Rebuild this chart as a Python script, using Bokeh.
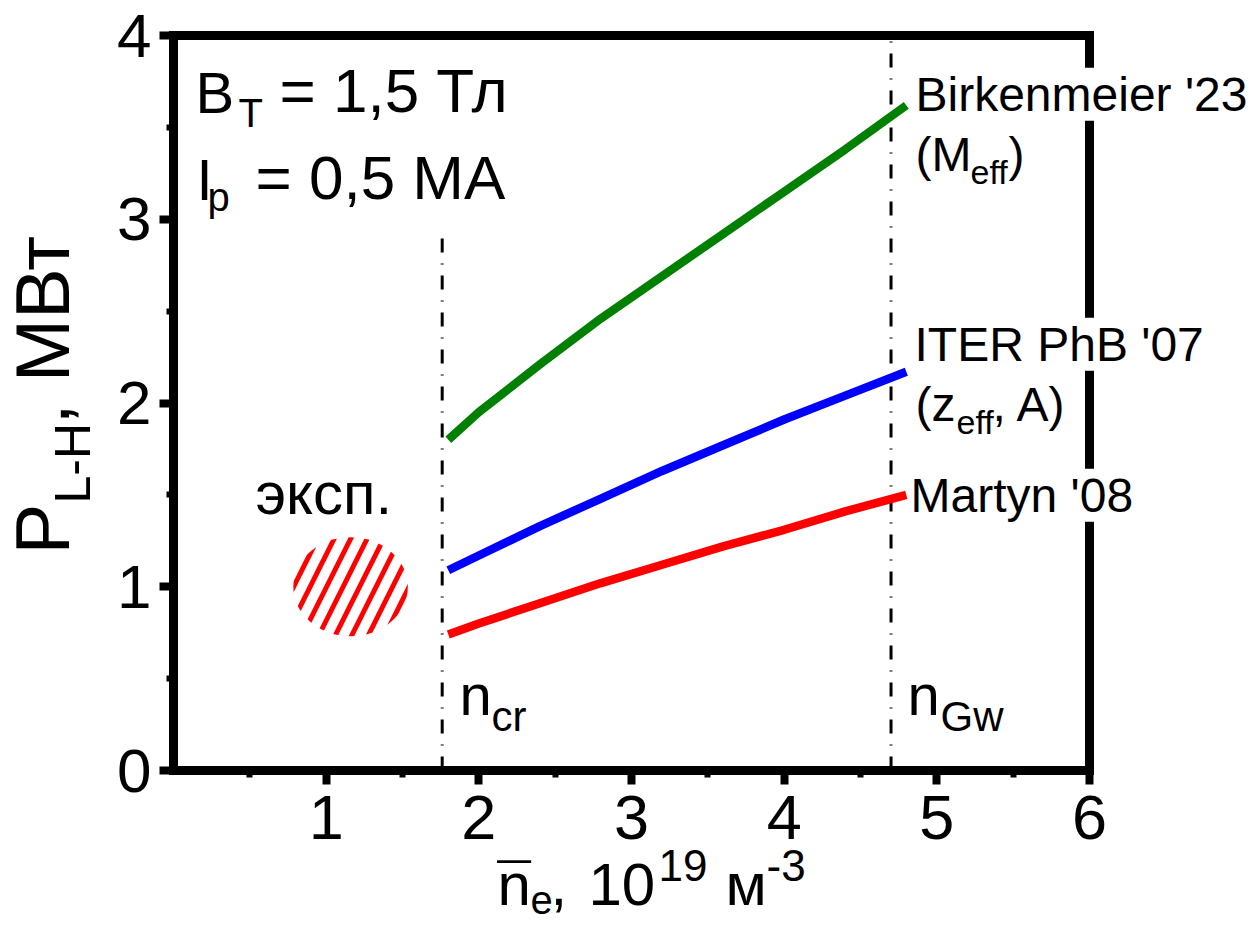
import math
from bokeh.plotting import figure
from bokeh.models import Label, LinearAxis, FixedTicker, Range1d
from bokeh.embed import file_html
from bokeh.resources import INLINE

# ---------------- data ----------------
ne = [1.8, 2.0, 2.4, 2.8, 3.2, 3.6, 4.0, 4.4, 4.8]
p_birkenmeier = [1.80, 1.95, 2.21, 2.46, 2.69, 2.92, 3.15, 3.38, 3.62]
p_iter = [1.09, 1.17, 1.33, 1.48, 1.63, 1.77, 1.91, 2.04, 2.17]
p_martyn = [0.74, 0.80, 0.91, 1.02, 1.12, 1.22, 1.31, 1.41, 1.50]

vline_x = [1.76, 4.70]          # n_cr, n_Gw
vline_bottom = [0.0, 0.0]
vline_top = [2.9, 4.0]

exp_ne = [1.16]
exp_p = [1.00]
exp_dne = [0.75]
exp_dp = [0.54]

x_lim = (0, 6)
y_lim = (0, 4)
x_ticks = [1, 2, 3, 4, 5, 6]
x_minor = [0.5, 1.5, 2.5, 3.5, 4.5, 5.5]
y_ticks = [0, 1, 2, 3, 4]
y_minor = [0.5, 1.5, 2.5, 3.5]

# ---------------- layout ----------------
W, H = 1259, 926
L, R, T, B = 173, 1089, 35, 770       # pixel box of the data area
XS = (R - L) / (x_lim[1] - x_lim[0])
YS = (B - T) / (y_lim[1] - y_lim[0])
FONT = "Liberation Sans"

p = figure(width=W, height=H,
           x_range=Range1d(x_lim[0] - L / XS, x_lim[0] + (W - L) / XS),
           y_range=Range1d(y_lim[0] - (H - B) / YS, y_lim[1] + T / YS),
           output_backend="svg", toolbar_location=None,
           min_border=0, min_border_left=0, min_border_right=0,
           min_border_top=0, min_border_bottom=0)
p.outline_line_color = None
p.grid.visible = False
p.background_fill_color = "white"
p.border_fill_color = "white"

def style_axis(ax, ticks, minor, size, loc, bounds):
    ax.fixed_location = loc
    ax.bounds = bounds
    ax.ticker = FixedTicker(ticks=ticks, minor_ticks=minor)
    ax.axis_line_width = 9
    ax.axis_line_color = "black"
    ax.axis_line_cap = "square"
    ax.major_tick_in = 0
    ax.major_tick_out = 14
    ax.major_tick_line_width = 8
    ax.minor_tick_in = 0
    ax.minor_tick_out = 7
    ax.minor_tick_line_width = 6
    ax.major_label_text_font = FONT
    ax.major_label_text_font_size = size
    ax.major_label_text_color = "black"

style_axis(p.xaxis[0], x_ticks, x_minor, "63px", y_lim[0], x_lim)
p.xaxis[0].major_label_standoff = 11
style_axis(p.yaxis[0], y_ticks, y_minor, "62px", x_lim[0], y_lim)
p.yaxis[0].major_label_standoff = 8

for side, loc, bnd in (("above", y_lim[1], x_lim), ("right", x_lim[1], y_lim)):
    ax = LinearAxis(ticker=FixedTicker(ticks=[], minor_ticks=[]))
    ax.fixed_location = loc
    ax.bounds = bnd
    ax.axis_line_width = 9
    ax.axis_line_cap = "square"
    ax.major_tick_out = 0
    ax.major_tick_in = 0
    ax.minor_tick_out = 0
    ax.minor_tick_in = 0
    ax.major_label_text_font_size = "0px"
    ax.major_label_standoff = 0
    p.add_layout(ax, side)

# ---------------- glyphs ----------------
p.segment(x0=vline_x, y0=vline_bottom, x1=vline_x, y1=vline_top,
          line_color="black", line_width=3, line_dash="14 11 1 11")

p.ellipse(x=exp_ne, y=exp_p, width=exp_dne, height=exp_dp,
          fill_color=None, line_color=None,
          hatch_pattern="/", hatch_color="red", hatch_scale=33, hatch_weight=5)

p.line(ne, p_martyn, line_color="#FF0000", line_width=8.5)
p.line(ne, p_iter, line_color="#0000FF", line_width=8.5)
p.line(ne, p_birkenmeier, line_color="#008000", line_width=8.5)

# ---------------- texts ----------------
K = 0.40   # baseline correction (fraction of font size)

def lab(text, px, py, size, rotated=False, bg=False):
    if rotated:
        px = px - K * size
    else:
        py = py - K * size
    kw = dict(x=x_lim[0] + (px - L) / XS, y=y_lim[0] + (B - py) / YS, text=text,
              text_font=FONT, text_font_size=f"{size}px",
              text_baseline="alphabetic", text_align="left",
              text_color="black", angle=(math.pi / 2 if rotated else 0.0))
    if bg:
        kw.update(background_fill_color="white", background_fill_alpha=1.0)
    p.add_layout(Label(**kw))

# top-left parameters
lab("B", 195, 115, 58)
lab("T", 238, 128, 40)
lab("= 1,5 Тл", 279, 115, 62)
lab("I", 196, 202, 58)
lab("p", 207, 212, 40)
lab("= 0,5 МА", 255, 202, 62)

# experiment label
lab("эксп.", 255, 517, 60)

# density markers
lab("n", 459, 717, 58)
lab("cr", 491, 733, 42)
lab("n", 907, 717, 58)
lab("Gw", 940, 733, 42)

# curve labels
lab("Birkenmeier '23", 915, 113, 48, bg=True)
lab("(M", 915, 173, 48)
lab("eff", 970, 185, 34)
lab(")", 1008, 173, 48)
lab("ITER PhB '07", 914, 363, 48, bg=True)
lab("(z", 915, 423, 48)
lab("eff", 956, 435, 34)
lab(", A)", 992, 423, 48)
lab("Martyn '08", 910, 514, 48, bg=True)

# y-axis title (rotated)
lab("P", 72, 554, 76, rotated=True)
lab("L-H", 92, 503, 50, rotated=True)
lab(", МВт", 72, 424, 76, rotated=True)

# x-axis title
lab("n", 497, 908, 60)
lab("\u00af", 497, 908, 60)
lab("e", 530, 915, 40)
lab(",", 550, 908, 60)
lab("10", 588, 908, 60)
lab("19", 658, 883, 44)
lab("м", 725, 908, 60)
lab("-3", 766, 883, 44)

open("out.html", "w").write(file_html(p, INLINE))
